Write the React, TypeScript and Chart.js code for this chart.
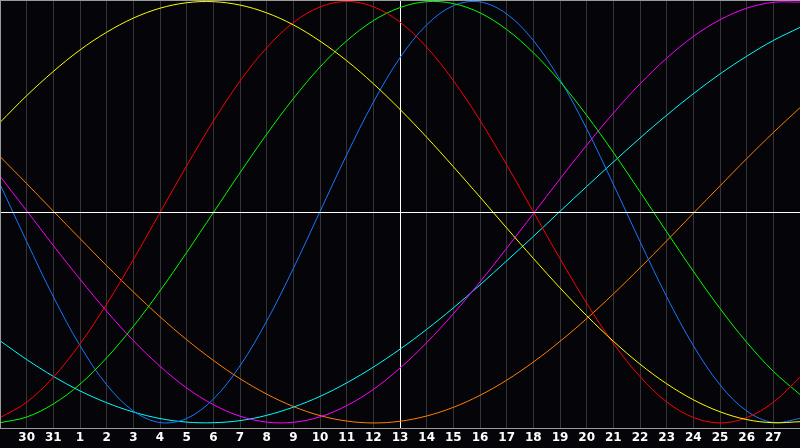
import React, { useEffect, useRef } from "react";
import { Chart, registerables } from "chart.js";

Chart.register(...registerables);

const dayLabels = ["29", "30", "31", "1", "2", "3", "4", "5", "6", "7", "8", "9", "10", "11", "12", "13", "14", "15", "16", "17", "18", "19", "20", "21", "22", "23", "24", "25", "26", "27", "28"];

const yellow = [0.426, 0.553, 0.668, 0.770, 0.854, 0.921, 0.968, 0.994, 0.999, 0.983, 0.946, 0.889, 0.812, 0.719, 0.610, 0.488, 0.356, 0.216, 0.072, -0.075, -0.219, -0.359, -0.491, -0.612, -0.721, -0.814, -0.890, -0.947, -0.984, -0.999, -0.994];
const red = [-0.975, -0.902, -0.783, -0.625, -0.436, -0.225, -0.002, 0.220, 0.432, 0.622, 0.780, 0.900, 0.974, 1.000, 0.975, 0.902, 0.783, 0.625, 0.436, 0.225, 0.002, -0.220, -0.432, -0.622, -0.780, -0.900, -0.974, -1.000, -0.975, -0.902, -0.783];
const green = [-0.999, -0.972, -0.910, -0.816, -0.691, -0.542, -0.373, -0.191, -0.002, 0.187, 0.370, 0.539, 0.689, 0.813, 0.909, 0.971, 0.999, 0.990, 0.946, 0.867, 0.757, 0.620, 0.460, 0.284, 0.097, -0.093, -0.280, -0.457, -0.617, -0.755, -0.865];
const blue = [0.133, -0.139, -0.401, -0.633, -0.819, -0.943, -0.998, -0.979, -0.887, -0.729, -0.517, -0.267, 0.003, 0.272, 0.522, 0.733, 0.889, 0.980, 0.998, 0.941, 0.815, 0.629, 0.396, 0.133, -0.139, -0.401, -0.633, -0.819, -0.943, -0.998, -0.979];
const magenta = [0.171, 0.007, -0.158, -0.318, -0.470, -0.609, -0.731, -0.834, -0.913, -0.968, -0.996, -0.997, -0.971, -0.918, -0.841, -0.740, -0.619, -0.482, -0.331, -0.171, -0.007, 0.158, 0.318, 0.470, 0.609, 0.731, 0.834, 0.913, 0.968, 0.996, 0.997];
const cyan = [-0.610, -0.699, -0.779, -0.848, -0.904, -0.948, -0.979, -0.996, -0.999, -0.989, -0.964, -0.925, -0.874, -0.810, -0.735, -0.650, -0.556, -0.454, -0.345, -0.231, -0.115, 0.004, 0.122, 0.238, 0.352, 0.460, 0.562, 0.656, 0.740, 0.815, 0.877];
const orange = [0.264, 0.136, 0.005, -0.125, -0.254, -0.378, -0.496, -0.605, -0.703, -0.790, -0.863, -0.922, -0.965, -0.991, -1.000, -0.992, -0.967, -0.926, -0.869, -0.797, -0.711, -0.613, -0.505, -0.388, -0.264, -0.136, -0.005, 0.125, 0.254, 0.378, 0.496];

const todayIndex = 15;

const seriesList = [
  { data: yellow, color: "#ffff00" },
  { data: red, color: "#ff0000" },
  { data: green, color: "#00ff00" },
  { data: blue, color: "#1478ff" },
  { data: magenta, color: "#ff00ff" },
  { data: cyan, color: "#00ffff" },
  { data: orange, color: "#ff8000" },
];

const framePlugin = {
  id: "frame",
  beforeDraw(chart: any) {
    const { ctx, width, height } = chart;
    ctx.save();
    ctx.fillStyle = "#050409";
    ctx.fillRect(0, 0, width, height);
    ctx.restore();
  },
  afterDatasetsDraw(chart: any) {
    const { ctx, chartArea, scales } = chart;
    const y0 = Math.round(scales.y.getPixelForValue(0)) + 0.5;
    ctx.save();
    ctx.lineWidth = 1;
    ctx.strokeStyle = "#ffffff";
    ctx.beginPath();
    ctx.moveTo(chartArea.left, y0);
    ctx.lineTo(chartArea.right, y0);
    ctx.stroke();
    ctx.strokeStyle = "#9a9a9a";
    ctx.beginPath();
    ctx.moveTo(chartArea.left, chartArea.top + 0.5);
    ctx.lineTo(chartArea.right, chartArea.top + 0.5);
    ctx.moveTo(chartArea.left + 0.5, chartArea.top);
    ctx.lineTo(chartArea.left + 0.5, chartArea.bottom);
    ctx.stroke();
    ctx.restore();
  },
};

export default function App() {
  const ref = useRef<HTMLCanvasElement | null>(null);
  useEffect(() => {
    if (!ref.current) return;
    const chart = new Chart(ref.current, {
      type: "line",
      data: {
        labels: dayLabels,
        datasets: seriesList.map((s) => ({
          data: s.data,
          borderColor: s.color,
          borderWidth: 1,
          pointRadius: 0,
          pointHoverRadius: 0,
          tension: 0.35,
          fill: false,
        })),
      },
      options: {
        animation: false,
        responsive: false,
        devicePixelRatio: 1,
        layout: { padding: 0, autoPadding: false },
        plugins: { legend: { display: false }, tooltip: { enabled: false }, title: { display: false } },
        scales: {
          x: {
            offset: false,
            grid: {
              drawTicks: false,
              color: (c: any) => (c.index === todayIndex ? "#ffffff" : "#353438"),
              lineWidth: 1,
            },
            border: { display: true, color: "#9a9a9a", width: 1 },
            ticks: {
              autoSkip: false,
              maxRotation: 0,
              padding: 0,
              color: "#ffffff",
              font: { family: "DejaVu Sans", size: 12, weight: "bold", lineHeight: "20px" },
              callback: (_v: any, i: number) => (i === 0 || i === dayLabels.length - 1 ? "" : dayLabels[i]),
            },
          },
          y: {
            display: false,
            min: -1.024,
            max: 1.007,
          },
        },
      },
      plugins: [framePlugin],
    } as any);
    return () => chart.destroy();
  }, []);
  return (
    <div style={{ position: "fixed", left: 0, top: 0, width: 800, height: 448 }}>
      <canvas ref={ref} width={800} height={448} style={{ display: "block" }} />
    </div>
  );
}
